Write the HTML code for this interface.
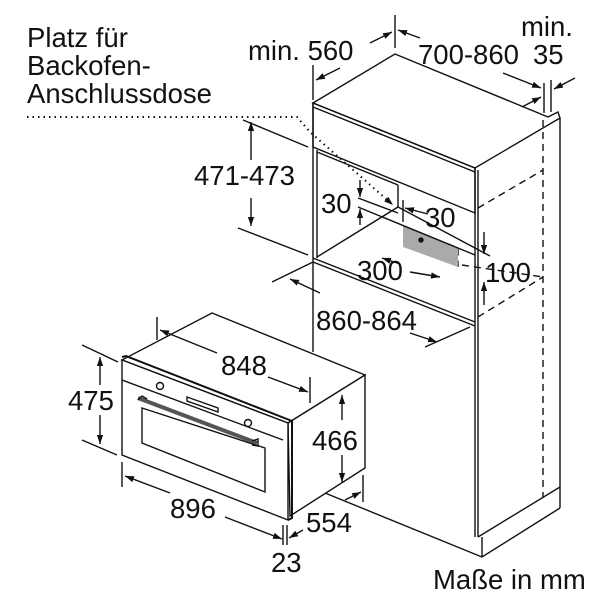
<!DOCTYPE html>
<html><head><meta charset="utf-8"><style>
html,body{margin:0;padding:0;background:#fff}
svg{display:block}
text{font-family:"Liberation Sans",sans-serif;font-size:27.5px;fill:#111}
</style></head><body>
<svg width="600" height="600" viewBox="0 0 600 600" xmlns="http://www.w3.org/2000/svg">
<defs>
<marker id="a" viewBox="0 0 10 10" refX="10" refY="5" markerWidth="9" markerHeight="9" orient="auto-start-reverse" markerUnits="userSpaceOnUse">
<path d="M0,1.5 L10,5 L0,8.5 Z" fill="#111"/></marker>
</defs>
<g stroke="#111" stroke-width="1.4" fill="none">
<path d="M313,103 L395,54 L548,117 L558,112 L560,118 L475,168 L313,103 Z" fill="#fff"/>
<path d="M313,103 L475,168 L475,213 L313,147 Z"/>
<line x1="313" y1="107" x2="475" y2="172"/>
<line x1="560" y1="118" x2="560" y2="508"/>
<line x1="475" y1="168" x2="475" y2="537"/>
<line x1="478" y1="170" x2="478" y2="537"/>
<line x1="313" y1="103" x2="313" y2="352"/>
<line x1="317" y1="150" x2="317" y2="258"/>
<line x1="317" y1="152" x2="398" y2="185"/>
<line x1="317" y1="257" x2="398" y2="207"/>
<line x1="398" y1="185" x2="398" y2="207"/>
<line x1="398" y1="207" x2="475" y2="248"/>
<path d="M313,258 L475,322 M313,262 L475,326"/>
<path d="M325,493 L482,557 L560,508 M478,537 L560,487 M482,537 L482,557"/>
<g stroke-dasharray="7,5">
<line x1="543" y1="120" x2="543" y2="497"/>
<line x1="478" y1="208" x2="543" y2="170"/>
<line x1="478" y1="317" x2="543" y2="277"/>
<line x1="462" y1="265" x2="543" y2="277"/>
<path d="M403,226 L458,248 L458,267" />
</g>
<path d="M403,226 L458,248 L458,267 L403,247 Z" fill="#aaa" stroke="none"/>
<circle cx="421" cy="240" r="2" fill="#111"/>
<line x1="243" y1="120" x2="308" y2="147"/>
<line x1="238" y1="228" x2="308" y2="255"/>
<line x1="251" y1="160" x2="251" y2="122" marker-end="url(#a)"/>
<line x1="251" y1="198" x2="251" y2="226" marker-end="url(#a)"/>
<path d="M27,117 L297,117 L310,132 L393,205" stroke-dasharray="1.5,4" stroke-width="2" marker-end="url(#a)"/>
<line x1="313" y1="65" x2="313" y2="100"/>
<line x1="395" y1="15" x2="395" y2="48"/>
<line x1="340" y1="68" x2="316" y2="80" marker-end="url(#a)"/>
<line x1="370" y1="43" x2="392" y2="32" marker-end="url(#a)"/>
<line x1="420" y1="38" x2="398" y2="30" marker-end="url(#a)"/>
<line x1="503" y1="73" x2="541" y2="88" marker-end="url(#a)"/>
<line x1="522" y1="107" x2="541" y2="97" marker-end="url(#a)"/>
<line x1="544" y1="83" x2="544" y2="113"/>
<line x1="551" y1="80" x2="551" y2="112"/>
<line x1="575" y1="78" x2="554" y2="89" marker-end="url(#a)"/>
<line x1="358" y1="198" x2="398" y2="213"/>
<line x1="358" y1="207" x2="475" y2="255"/>
<line x1="360" y1="180" x2="360" y2="197" marker-end="url(#a)"/>
<line x1="360" y1="225" x2="360" y2="209" marker-end="url(#a)"/>
<line x1="403" y1="200" x2="403" y2="222"/>
<line x1="428" y1="214" x2="405" y2="208" marker-end="url(#a)"/>
<line x1="475" y1="248" x2="490" y2="256"/>
<line x1="484" y1="232" x2="484" y2="254" marker-end="url(#a)"/>
<line x1="484" y1="305" x2="484" y2="282" marker-end="url(#a)"/>
<line x1="382" y1="258" x2="400" y2="264" marker-start="url(#a)"/>
<line x1="410" y1="272" x2="440" y2="277" marker-end="url(#a)"/>
<line x1="272" y1="282" x2="313" y2="262"/>
<line x1="425" y1="347" x2="470" y2="327"/>
<line x1="290" y1="279" x2="320" y2="293" marker-start="url(#a)"/>
<line x1="410" y1="333" x2="437" y2="342" marker-end="url(#a)"/>
<path d="M122,360 L212,313 L365,375 L288,423 Z" fill="#fff"/>
<path d="M288,423 L365,375 L365,468 L290,516 Z" fill="#fff"/>
<path d="M122,360 L288,423 L288,520 L122,455 Z" fill="#fff"/>
<path d="M122,357 L126,356 L292,421 L292,518 L288,520" stroke-width="2"/>
<line x1="122" y1="380" x2="283" y2="440"/>
<path d="M142,408 L265,448 L265,492 L142,443 Z"/>
<path d="M138,398 L257,443" stroke-width="4" stroke="#555"/>
<path d="M138,400 L142,396 L147,399 M252,441 L258,439 L258,446 L252,445"/>
<circle cx="160" cy="386" r="3.5"/>
<circle cx="248" cy="423" r="3.5"/>
<path d="M187,397 L218,408 L218,412 L187,401 Z"/>
<line x1="157" y1="317" x2="157" y2="340"/>
<line x1="310" y1="377" x2="310" y2="403"/>
<line x1="217" y1="353" x2="160" y2="330" marker-end="url(#a)"/>
<line x1="268" y1="377" x2="308" y2="392" marker-end="url(#a)"/>
<line x1="82" y1="345" x2="118" y2="362"/>
<line x1="82" y1="440" x2="117" y2="455"/>
<line x1="100" y1="385" x2="100" y2="357" marker-end="url(#a)"/>
<line x1="100" y1="415" x2="100" y2="444" marker-end="url(#a)"/>
<line x1="122" y1="462" x2="122" y2="487"/>
<line x1="170" y1="493" x2="125" y2="476" marker-end="url(#a)"/>
<line x1="225" y1="517" x2="282" y2="539" marker-end="url(#a)"/>
<line x1="283" y1="525" x2="283" y2="545"/>
<line x1="287" y1="525" x2="287" y2="545"/>
<line x1="303" y1="530" x2="289" y2="538" marker-end="url(#a)"/>
<line x1="363" y1="475" x2="363" y2="502"/>
<line x1="345" y1="500" x2="361" y2="492" marker-end="url(#a)"/>
<line x1="342" y1="420" x2="342" y2="395" marker-end="url(#a)"/>
<line x1="342" y1="455" x2="342" y2="482" marker-end="url(#a)"/>
</g>
<text x="27" y="47">Platz für</text>
<text x="27" y="75">Backofen-</text>
<text x="27" y="103">Anschlussdose</text>
<text x="194" y="185">471-473</text>
<text x="248" y="60">min. 560</text>
<text x="418" y="64">700-860</text>
<text x="521" y="36">min.</text>
<text x="533" y="64">35</text>
<text x="321" y="213">30</text>
<text x="425" y="227">30</text>
<text x="357" y="280">300</text>
<text x="485" y="282">100</text>
<text x="316" y="330">860-864</text>
<text x="221" y="375">848</text>
<text x="68" y="410">475</text>
<text x="312" y="450">466</text>
<text x="170" y="518">896</text>
<text x="306" y="532">554</text>
<text x="271" y="572">23</text>
<text x="433" y="589">Maße in mm</text>
</svg>
</body></html>
